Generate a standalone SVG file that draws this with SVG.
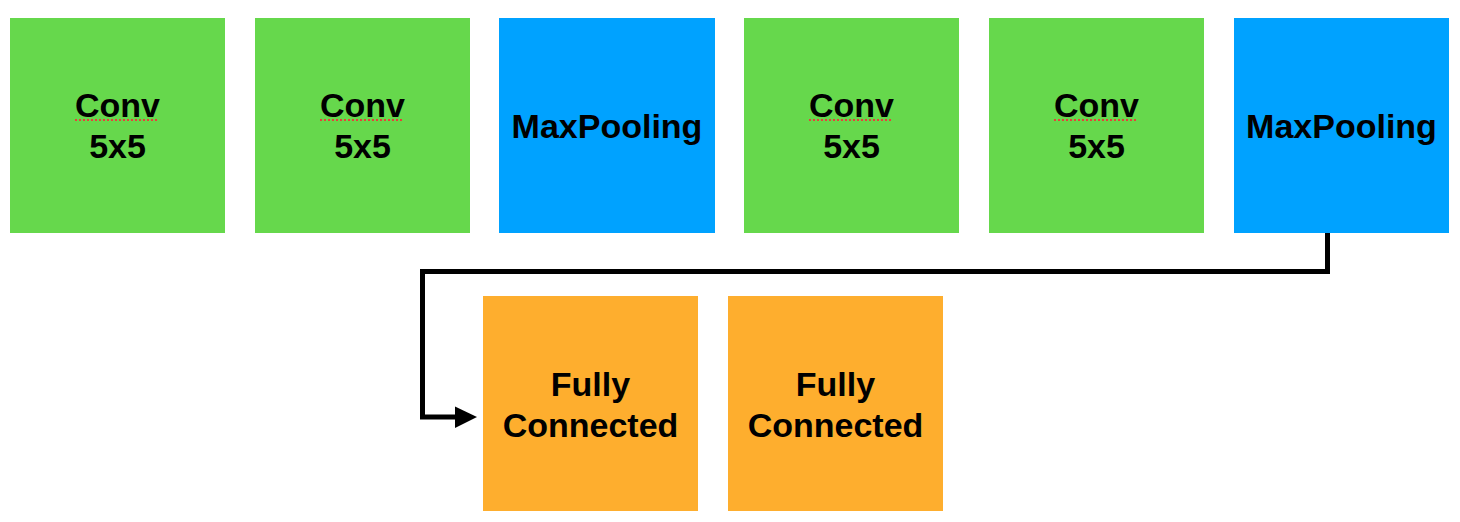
<svg xmlns="http://www.w3.org/2000/svg" width="1460" height="522" viewBox="0 0 1460 522">
<style>
.g{fill:#66D84C}
.b{fill:#00A2FF}
.o{fill:#FEAE2E}
text{font-family:"Liberation Sans",Arial,sans-serif;font-weight:bold;font-size:34px;fill:#000;text-anchor:middle}
.sp{stroke:#E8403A;stroke-width:2;stroke-dasharray:2 2;fill:none}
.c{stroke:#000;stroke-width:5;fill:none}
.ah{fill:#000}
</style>
<rect width="1460" height="522" fill="#fff"/>
<g id="conv1"><rect class="g" x="10" y="18" width="215" height="215"/><text x="117.5" y="117">Conv</text><path class="sp" d="M75,120 H157"/><text x="117.5" y="158">5x5</text></g>
<g id="conv2"><rect class="g" x="255" y="18" width="215" height="215"/><text x="362.5" y="117">Conv</text><path class="sp" d="M320,120 H402"/><text x="362.5" y="158">5x5</text></g>
<g id="pool1"><rect class="b" x="499" y="18" width="216" height="215"/><text x="607" y="138">MaxPooling</text></g>
<g id="conv3"><rect class="g" x="744" y="18" width="215" height="215"/><text x="851.5" y="117">Conv</text><path class="sp" d="M809,120 H891"/><text x="851.5" y="158">5x5</text></g>
<g id="conv4"><rect class="g" x="989" y="18" width="215" height="215"/><text x="1096.5" y="117">Conv</text><path class="sp" d="M1054,120 H1136"/><text x="1096.5" y="158">5x5</text></g>
<g id="pool2"><rect class="b" x="1234" y="18" width="215" height="215"/><text x="1341.5" y="138">MaxPooling</text></g>
<g id="fc1"><rect class="o" x="483" y="296" width="215" height="215"/><text x="590.5" y="396">Fully</text><text x="590.5" y="437">Connected</text></g>
<g id="fc2"><rect class="o" x="728" y="296" width="215" height="215"/><text x="835.5" y="396">Fully</text><text x="835.5" y="437">Connected</text></g>
<g id="connectors">
<path class="c" d="M1327.5,233 V271.5 H422.5 V417 H457"/>
<polygon class="ah" points="455,406.5 477,417 455,428"/>
</g>
</svg>
